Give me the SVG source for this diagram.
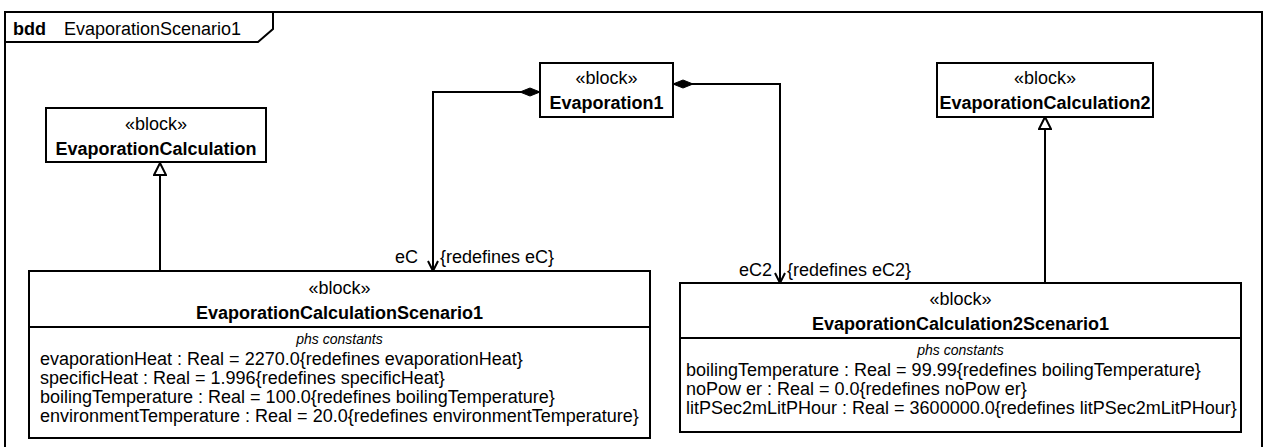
<svg xmlns="http://www.w3.org/2000/svg" width="1266" height="447" viewBox="0 0 1266 447">
<style>
text{font-family:"Liberation Sans",Arial,sans-serif;fill:#000}
.st{font-size:18px;text-anchor:middle}
.nm{font-size:18px;font-weight:bold;text-anchor:middle}
.cp{font-size:14px;font-style:italic;text-anchor:middle}
.at{font-size:18px}
.lb{font-size:18px}
.box{fill:#fff;stroke:#000;stroke-width:2}
.ln{fill:none;stroke:#000;stroke-width:2}
</style>
<defs>
<marker id="open" viewBox="0 0 12 12" refX="11" refY="6" markerWidth="12" markerHeight="12" markerUnits="userSpaceOnUse" orient="auto">
<path d="M1,1 L11,6 L1,11" fill="none" stroke="#000" stroke-width="2"/>
</marker>
<marker id="tri" viewBox="0 0 14 14" refX="13" refY="7" markerWidth="14" markerHeight="14" markerUnits="userSpaceOnUse" orient="auto">
<path d="M1,1 L13,7 L1,13 Z" fill="#fff" stroke="#000" stroke-width="2"/>
</marker>
<marker id="dia" viewBox="0 0 22 10" refX="1" refY="5" markerWidth="22" markerHeight="10" markerUnits="userSpaceOnUse" orient="auto">
<path d="M1,5 L11,1 L21,5 L11,9 Z" fill="#000" stroke="#000" stroke-width="1"/>
</marker>
</defs>
<g id="frame">
<rect x="5" y="12" width="1257" height="445" fill="#fff" stroke="#000" stroke-width="2"/>
<path class="ln" d="M5,42 L258,42 L273,29 L273,12"/>
<text x="13" y="35" style="font-size:18px;font-weight:bold">bdd</text>
<text x="64" y="35" style="font-size:18px">EvaporationScenario1</text>
</g>
<g id="connectors">
<path class="ln" d="M540,92 L433,92 L433,271" marker-start="url(#dia)" marker-end="url(#open)"/>
<path class="ln" d="M673,84 L780,84 L780,283" marker-start="url(#dia)" marker-end="url(#open)"/>
<path class="ln" d="M160,271 L160,163" marker-end="url(#tri)"/>
<path class="ln" d="M1045,283 L1045,117" marker-end="url(#tri)"/>
<text class="lb" x="395" y="263">eC</text>
<text class="lb" x="440" y="263">{redefines eC}</text>
<text class="lb" x="739" y="276">eC2</text>
<text class="lb" x="787" y="276">{redefines eC2}</text>
</g>
<g id="Evaporation1">
<rect class="box" x="540" y="63" width="133" height="54"/>
<text class="st" x="606.5" y="84">«block»</text>
<text class="nm" x="606.5" y="109">Evaporation1</text>
</g>
<g id="EvaporationCalculation">
<rect class="box" x="46" y="108" width="220" height="54"/>
<text class="st" x="156" y="130">«block»</text>
<text class="nm" x="156" y="155">EvaporationCalculation</text>
</g>
<g id="EvaporationCalculation2">
<rect class="box" x="937" y="63" width="216" height="54"/>
<text class="st" x="1045" y="84">«block»</text>
<text class="nm" x="1045" y="109">EvaporationCalculation2</text>
</g>
<g id="EvaporationCalculationScenario1">
<rect class="box" x="29" y="271" width="621" height="167"/>
<line class="ln" x1="29" y1="327" x2="650" y2="327"/>
<text class="st" x="339.5" y="294">«block»</text>
<text class="nm" x="339.5" y="319">EvaporationCalculationScenario1</text>
<text class="cp" x="339.5" y="344">phs constants</text>
<text class="at" x="40" y="365">evaporationHeat : Real = 2270.0{redefines evaporationHeat}</text>
<text class="at" x="40" y="384">specificHeat : Real = 1.996{redefines specificHeat}</text>
<text class="at" x="40" y="403">boilingTemperature : Real = 100.0{redefines boilingTemperature}</text>
<text class="at" x="40" y="422">environmentTemperature : Real = 20.0{redefines environmentTemperature}</text>
</g>
<g id="EvaporationCalculation2Scenario1">
<rect class="box" x="680" y="283" width="561" height="149"/>
<line class="ln" x1="680" y1="338" x2="1241" y2="338"/>
<text class="st" x="960.5" y="305">«block»</text>
<text class="nm" x="960.5" y="330">EvaporationCalculation2Scenario1</text>
<text class="cp" x="960.5" y="355">phs constants</text>
<text class="at" x="686" y="376">boilingTemperature : Real = 99.99{redefines boilingTemperature}</text>
<text class="at" x="686" y="395">noPow er : Real = 0.0{redefines noPow er}</text>
<text class="at" x="686" y="414">litPSec2mLitPHour : Real = 3600000.0{redefines litPSec2mLitPHour}</text>
</g>
</svg>
